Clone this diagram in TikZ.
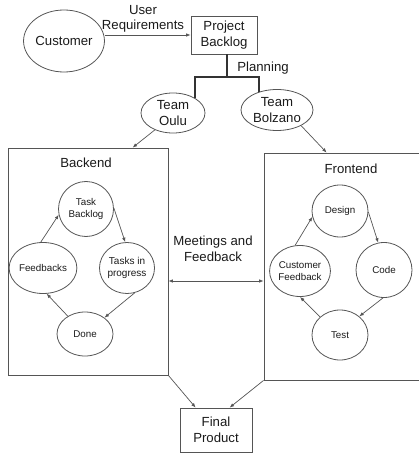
\documentclass[tikz,border=0pt]{standalone}
\usepackage{fontspec}
\setmainfont{Liberation Sans}
\usetikzlibrary{shapes.geometric,arrows.meta,calc}
\definecolor{linegray}{HTML}{555555}
\definecolor{txt}{HTML}{1A1A1A}
\tikzset{
  every node/.style={text=txt},
  big/.style={font=\fontsize{13.2}{15.5}\selectfont, align=center},
  small/.style={font=\fontsize{9.8}{11.5}\selectfont, align=center},
  oval/.style={ellipse, draw=linegray, line width=0.8pt, inner sep=0pt},
  boxnode/.style={rectangle, draw=linegray, line width=0.8pt, inner sep=0pt},
  conn/.style={draw=linegray, line width=0.7pt, -{Latex[length=4.5pt,width=3.5pt]}},
  plan/.style={draw=black!80, line width=1.4pt},
  lbl/.style={big, inner sep=0pt}
}
\begin{document}
\begin{tikzpicture}[x=1pt,y=-1pt]
\useasboundingbox (0,0) rectangle (418,454);
% top
\node[oval, big, minimum width=66pt, minimum height=62pt] (cust) at (64,41) {Customer};
\node[boxnode, big, minimum width=66pt, minimum height=38pt] (pb) at (224,35) {Project\\Backlog};
\node[oval, big, minimum width=64pt, minimum height=40pt] (oulu) at (173,113) {Team\\Oulu};
\node[oval, big, minimum width=72pt, minimum height=41pt] (bolz) at (277,110) {Team\\Bolzano};
\node[lbl] (ureq) at (143,19) {User\\Requirements};
\node[lbl] (plab) at (263,68) {Planning};
% boxes
\node[boxnode, minimum width=160pt, minimum height=227pt] (back) at (88,261.5) {};
\node[boxnode, minimum width=160pt, minimum height=227pt] (front) at (344,266.5) {};
\node[lbl] (backlab) at (86,163) {Backend};
\node[lbl] (frontlab) at (351,169) {Frontend};
\node[lbl] (meet) at (213,249) {Meetings and\\Feedback};
\node[boxnode, big, minimum width=72pt, minimum height=44pt] (final) at (216,430) {Final\\Product};
% backend cycle
\node[oval, small, minimum width=55pt, minimum height=55pt] (tb) at (86,209) {Task\\Backlog};
\node[oval, font=\fontsize{10}{12}\selectfont, align=center, minimum width=49pt, minimum height=51pt] (tip) at (127,268) {Tasks in\\progress};
\node[oval, small, minimum width=54pt, minimum height=51pt] (fb) at (43,268) {Feedbacks};
\node[oval, small, minimum width=56pt, minimum height=44pt] (done) at (85,334) {Done};
% frontend cycle
\node[oval, small, minimum width=56pt, minimum height=52pt] (des) at (340,211) {Design};
\node[oval, small, minimum width=56pt, minimum height=55pt] (code) at (384,270) {Code};
\node[oval, small, minimum width=59pt, minimum height=51pt] (cf) at (300,271) {Customer\\Feedback};
\node[oval, small, minimum width=56pt, minimum height=50pt] (test) at (340,335) {Test};
% connectors
\draw[conn] (pb.west -| cust.east) -- (pb.west);
\coordinate (pj) at (227,77);
\draw[plan] (pb.south -| pj) -- (pj);
\draw[plan] (oulu.34) |- (pj) -| (bolz.135);
\draw[conn] (oulu.223) -- ($(back.north west)+(125,0)$);
\draw[conn] (bolz.327) -- ($(front.north west)+(63,0)$);
\draw[conn] (fb.95) -- (tb.192);
\draw[conn] (tb.2) -- (tip.94);
\draw[conn] (tip.287) -- (done.40);
\draw[conn] (done.134) -- (fb.278);
\draw[conn] (cf.101) -- (des.192);
\draw[conn] (des.358) -- (code.102);
\draw[conn] (code.268) -- (test.44);
\draw[conn] (test.138) -- (cf.270);
\draw[conn, {Latex[length=4.5pt,width=3.5pt]}-{Latex[length=4.5pt,width=3.5pt]}] (back.east |- 0,281) -- (front.west |- 0,281);
\draw[conn] (back.south east) -- ($(final.north west)+(16,0)$);
\draw[conn] (front.south west) -- ($(final.north west)+(50,0)$);
\end{tikzpicture}
\end{document}
